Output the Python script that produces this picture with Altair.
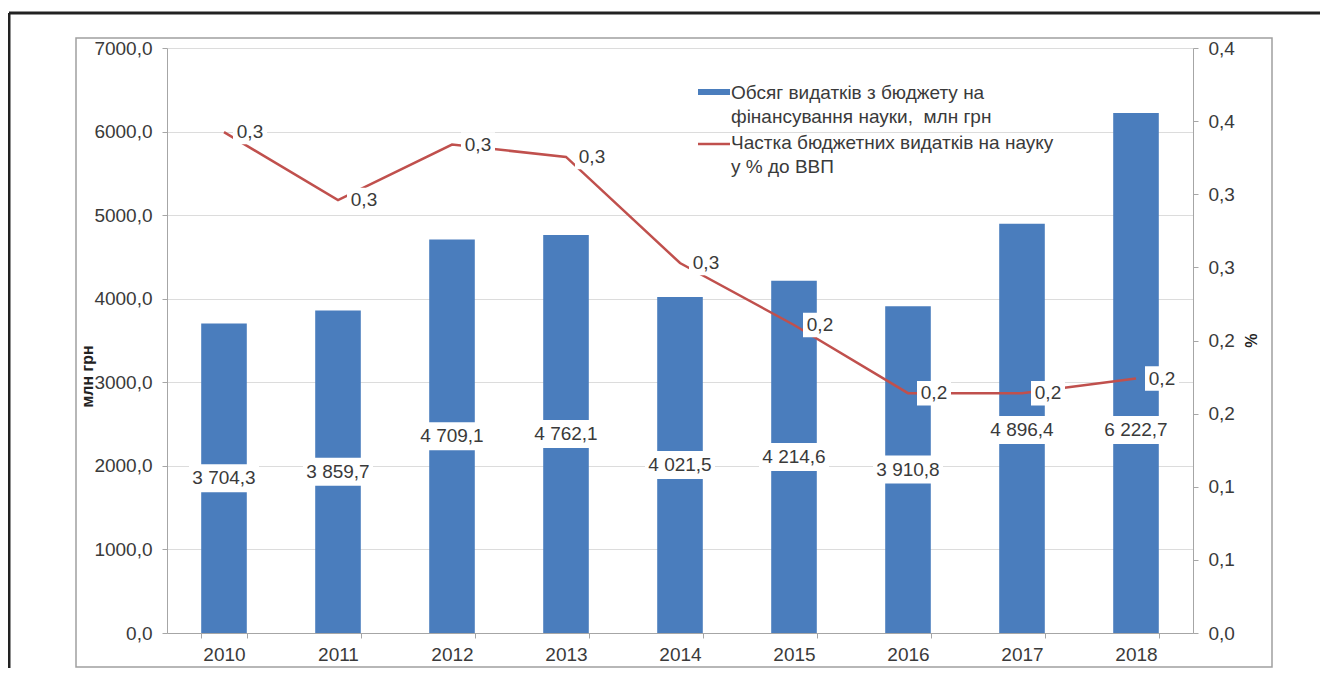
import altair as alt
import pandas as pd

years = ["2010", "2011", "2012", "2013", "2014", "2015", "2016", "2017", "2018"]
spending = [3704.3, 3859.7, 4709.1, 4762.1, 4021.5, 4214.6, 3910.8, 4896.4, 6222.7]
share = [0.3425, 0.296, 0.334, 0.3255, 0.253, 0.2106, 0.164, 0.164, 0.174]
left_ticks = [0, 1000, 2000, 3000, 4000, 5000, 6000, 7000]
right_ticks = [0, 0.05, 0.1, 0.15, 0.2, 0.25, 0.3, 0.35, 0.4]
legend_bar_text = "Обсяг видатків з бюджету на\nфінансування науки,\u00a0 млн грн"
legend_line_text = "Частка бюджетних видатків на науку\nу % до ВВП"
left_title = "млн грн"
right_title = "%"


def fmt_bar(v):
    return f"{v:,.1f}".replace(",", " ").replace(".", ",")


def fmt_share(v):
    return f"{v:.1f}".replace(".", ",")


df = pd.DataFrame({
    "year": years,
    "spend": spending,
    "share": share,
    "spend_label": [fmt_bar(v) for v in spending],
    "share_label": [fmt_share(v) for v in share],
})
one = pd.DataFrame({"a": [0]})

FONT = "Liberation Sans"
BLUE = "#4a7dbd"
RED = "#c0504d"
GRAY = "#a6a6a6"
TXT = "#3a3a3a"
FS = 19

x = alt.X("year:N", sort=years,
          scale=alt.Scale(paddingInner=0.6, paddingOuter=0.3),
          axis=alt.Axis(title=None, labelAngle=0, ticks=True, tickBand="extent",
                        tickSize=5, tickColor=GRAY, domainColor=GRAY,
                        labelPadding=7, labelFontSize=FS, labelColor=TXT))

left_scale = alt.Scale(domain=[0, 7000], nice=False)
right_scale = alt.Scale(domain=[0, 0.4], nice=False)

left_axis = alt.Axis(values=left_ticks,
                     labelExpr="replace(format(datum.value, '.1f'), '.', ',')",
                     title=left_title, titleFontWeight="bold", titleFontSize=16,
                     titleColor="#222", titleX=-72, titleY=328,
                     grid=True, gridColor="#dcdcdc", domainColor=GRAY,
                     tickColor=GRAY, tickSize=5, labelPadding=10,
                     labelFontSize=FS, labelColor=TXT)
right_axis = alt.Axis(orient="right", values=right_ticks,
                      labelExpr="replace(format(round(datum.value*10 + 1e-9)/10, '.1f'), '.', ',')",
                      title=right_title, titleFontWeight="bold", titleFontSize=16,
                      titleColor="#222", titleX=48, titleY=292,
                      grid=False, domainColor=GRAY, tickColor=GRAY, tickSize=5,
                      labelPadding=10, labelFontSize=FS, labelColor=TXT)

base = alt.Chart(df)

# decoration: frames and legend
frame_top = alt.Chart(one).mark_rule(color="#222", strokeWidth=3).encode(
    x=alt.value(-158), x2=alt.value(1200), y=alt.value(-35))
frame_left = alt.Chart(one).mark_rule(color="#222", strokeWidth=3).encode(
    x=alt.value(-158), y=alt.value(-35), y2=alt.value(700))
inner_box = alt.Chart(one).mark_rect(filled=False, stroke="#a0a0a0", strokeWidth=1.5).encode(
    x=alt.value(-91), x2=alt.value(1105), y=alt.value(-10), y2=alt.value(619))
leg_bar = alt.Chart(one).mark_rect(color=BLUE).encode(
    x=alt.value(531), x2=alt.value(563), y=alt.value(41), y2=alt.value(47))
leg_line = alt.Chart(one).mark_rule(color=RED, strokeWidth=2.5).encode(
    x=alt.value(531), x2=alt.value(563), y=alt.value(96))
leg_t1 = alt.Chart(one).mark_text(align="left", baseline="middle", lineBreak="\n",
                                  lineHeight=24, fontSize=FS, font=FONT, color=TXT).encode(
    x=alt.value(564), y=alt.value(45), text=alt.value(legend_bar_text))
leg_t2 = alt.Chart(one).mark_text(align="left", baseline="middle", lineBreak="\n",
                                  lineHeight=24, fontSize=FS, font=FONT, color=TXT).encode(
    x=alt.value(564), y=alt.value(95), text=alt.value(legend_line_text))

bars = base.mark_bar(color=BLUE).encode(
    x=x, y=alt.Y("spend:Q", scale=left_scale, axis=left_axis))
bar_mid = base.transform_calculate(mid="min(datum.spend/2, 2430)")
bar_box = bar_mid.mark_point(shape="M-1,-0.4H1V0.4H-1Z", size=4900, filled=True,
                             color="white", opacity=1, strokeWidth=0).encode(
    x=x, y=alt.Y("mid:Q", scale=left_scale, axis=left_axis))
bar_txt = bar_mid.mark_text(fontSize=FS, font=FONT, color=TXT, baseline="middle").encode(
    x=x, y=alt.Y("mid:Q", scale=left_scale, axis=left_axis), text="spend_label:N")

left_group = alt.layer(inner_box, frame_top, frame_left, bars, bar_box, bar_txt)

line = base.mark_line(color=RED, strokeWidth=2.5).encode(
    x=x, y=alt.Y("share:Q", scale=right_scale, axis=right_axis))
line_box = base.mark_point(shape="M-1,-0.72H1V0.72H-1Z", size=1156, filled=True,
                           color="white", opacity=1, strokeWidth=0, xOffset=26).encode(
    x=x, y=alt.Y("share:Q", scale=right_scale, axis=right_axis))
line_txt = base.mark_text(fontSize=FS, font=FONT, color=TXT, baseline="middle", xOffset=26).encode(
    x=x, y=alt.Y("share:Q", scale=right_scale, axis=right_axis), text="share_label:N")

right_group = alt.layer(line, line_box, line_txt, leg_bar, leg_line, leg_t1, leg_t2)

chart = alt.layer(left_group, right_group).resolve_scale(y="independent").properties(
    width=1026, height=585,
    autosize=alt.AutoSizeParams(type="none"),
    padding={"left": 159, "top": 40, "right": 127, "bottom": 35},
).configure_view(stroke=None).configure_axis(labelFont=FONT, titleFont=FONT)

chart.save("out.html", embed_options={"renderer": "svg", "actions": False})
